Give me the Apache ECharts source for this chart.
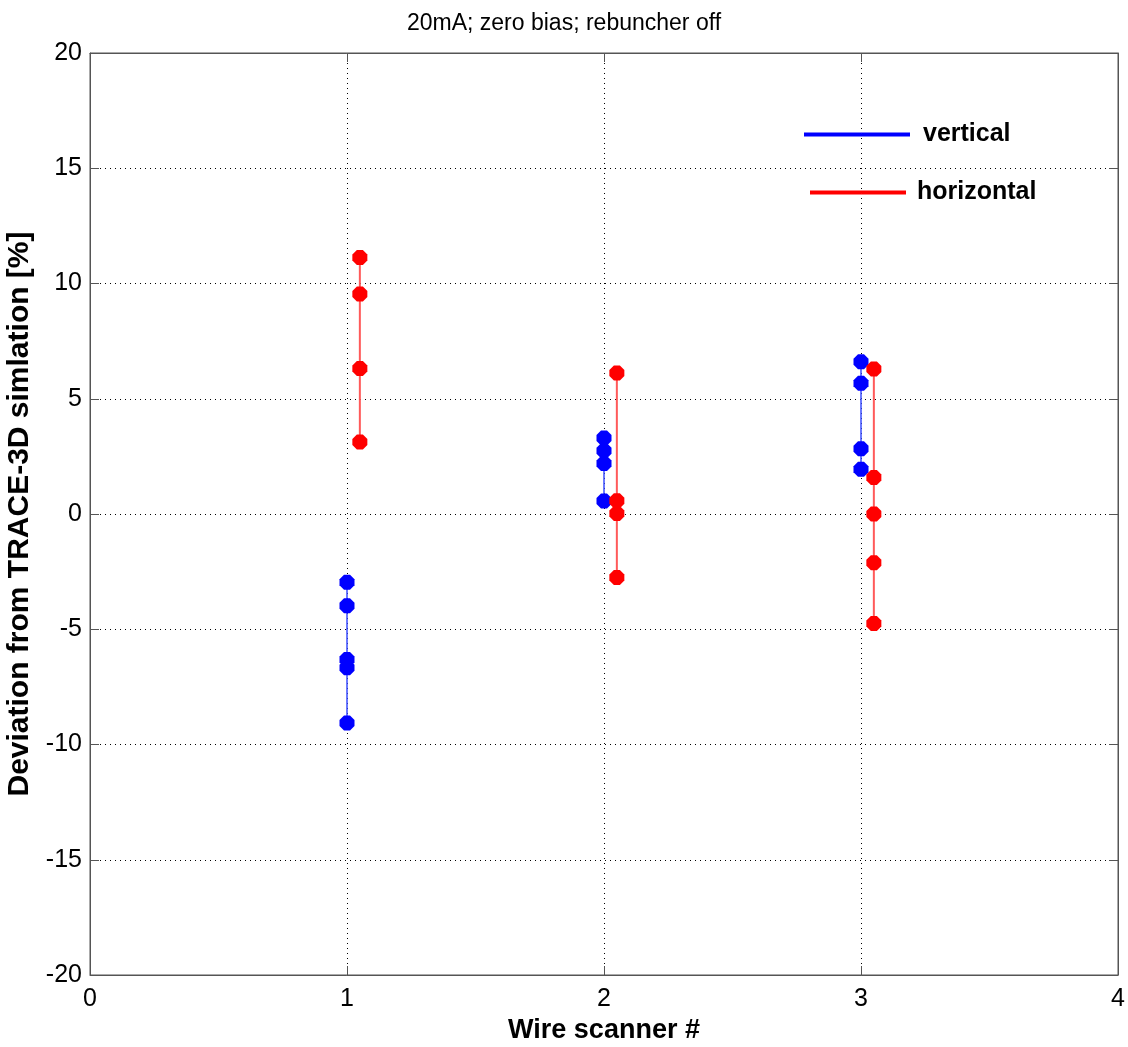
<!DOCTYPE html>
<html>
<head>
<meta charset="utf-8">
<script src="https://cdn.jsdelivr.net/npm/echarts@6/dist/echarts.min.js"></script>
<style>
  html, body { margin: 0; padding: 0; background: #fff; }
  #chart { width: 1128px; height: 1047px; }
</style>
</head>
<body>
<div id="chart"></div>
<script>
// wire scanner positions (horizontal is drawn slightly to the right)
const scanners = [1, 2, 3];
const horizOffset = 0.05;

// deviation [%] for each scanner
const vertical1 = [-2.96, -3.98, -6.31, -6.67, -9.07];
const vertical2 = [3.30, 2.74, 2.19, 0.56];
const vertical3 = [6.61, 5.67, 2.83, 1.94];
const horizontal1 = [11.13, 9.54, 6.31, 3.12];
const horizontal2 = [6.12, 0.58, 0.02, -2.75];
const horizontal3 = [6.29, 1.58, 0.0, -2.11, -4.75];

const xTicks = [0, 1, 2, 3, 4];
const yTicks = [-20, -15, -10, -5, 0, 5, 10, 15, 20];

const octagon = 'path://M3,0 L7,0 L10,3 L10,7 L7,10 L3,10 L0,7 L0,3 Z';

const makeSeries = (name, x, values, color, lineColor, lineWidth) => ({
  name: name,
  type: 'line',
  data: values.map(v => [x, v]),
  symbol: octagon,
  symbolSize: 15,
  itemStyle: { color: color },
  lineStyle: { color: lineColor, width: lineWidth },
  animation: false,
  z: name === 'vertical' ? 3 : 4,
});

const verticalData = [vertical1, vertical2, vertical3];
const horizontalData = [horizontal1, horizontal2, horizontal3];

const series = [];
scanners.forEach((x, i) => {
  series.push(makeSeries('vertical', x, verticalData[i], '#0000ff', '#3a4dff', 1.5));
});
scanners.forEach((x, i) => {
  series.push(makeSeries('horizontal', x + horizOffset, horizontalData[i], '#ff0000', '#ff5a5a', 2));
});

const chart = echarts.init(document.getElementById('chart'));

const font = 'Liberation Sans';
const frameColor = '#555';
const gridLine = { show: true, lineStyle: { color: '#000', type: [1, 4], width: 1 } };
const tick = { show: true, inside: true, length: 9, lineStyle: { color: frameColor } };

chart.setOption({
  animation: false,
  title: {
    text: '20mA; zero bias; rebuncher off',
    left: 'center',
    top: 7,
    textStyle: { fontFamily: font, fontSize: 23, fontWeight: 'normal', color: '#000' },
  },
  grid: {
    left: 90, right: 10, top: 53, bottom: 72,
    outerBoundsMode: 'none',
    show: true, borderColor: frameColor, borderWidth: 1,
  },
  legend: [
    {
      data: [{ name: 'vertical', icon: 'rect', itemStyle: { color: '#0000ff' } }],
      left: 799, top: 117,
      itemWidth: 106, itemHeight: 4, itemGap: 10,
      textStyle: { fontFamily: font, fontSize: 25, fontWeight: 'bold', color: '#000', padding: [0, 0, 0, 8] },
      selectedMode: false,
    },
    {
      data: [{ name: 'horizontal', icon: 'rect', itemStyle: { color: '#ff0000' } }],
      left: 805, top: 175,
      itemWidth: 96, itemHeight: 4, itemGap: 10,
      textStyle: { fontFamily: font, fontSize: 25, fontWeight: 'bold', color: '#000', padding: [0, 0, 0, 6] },
      selectedMode: false,
    },
  ],
  xAxis: [
    {
      type: 'value',
      min: xTicks[0], max: xTicks[xTicks.length - 1], interval: 1,
      name: 'Wire scanner #',
      nameLocation: 'middle', nameGap: 40,
      nameTextStyle: { fontFamily: font, fontSize: 27, fontWeight: 'bold', color: '#000' },
      axisLine: { show: true, onZero: false, lineStyle: { color: frameColor } },
      axisTick: tick,
      axisLabel: { fontFamily: font, fontSize: 25, color: '#000', margin: 12 },
      splitLine: gridLine,
    },
    {
      type: 'value', position: 'top',
      min: xTicks[0], max: xTicks[xTicks.length - 1], interval: 1,
      axisLine: { show: true, onZero: false, lineStyle: { color: frameColor } },
      axisTick: tick,
      axisLabel: { show: false },
      splitLine: { show: false },
    },
  ],
  yAxis: [
    {
      type: 'value',
      min: yTicks[0], max: yTicks[yTicks.length - 1], interval: 5,
      name: 'Deviation from TRACE-3D simlation [%]',
      nameLocation: 'middle', nameGap: 46,
      nameTextStyle: { fontFamily: font, fontSize: 30, fontWeight: 'bold', color: '#000' },
      axisLine: { show: true, onZero: false, lineStyle: { color: frameColor } },
      axisTick: tick,
      axisLabel: { fontFamily: font, fontSize: 25, color: '#000', margin: 8 },
      splitLine: gridLine,
    },
    {
      type: 'value', position: 'right',
      min: yTicks[0], max: yTicks[yTicks.length - 1], interval: 5,
      axisLine: { show: true, onZero: false, lineStyle: { color: frameColor } },
      axisTick: tick,
      axisLabel: { show: false },
      splitLine: { show: false },
    },
  ],
  series: series,
});
</script>
</body>
</html>
